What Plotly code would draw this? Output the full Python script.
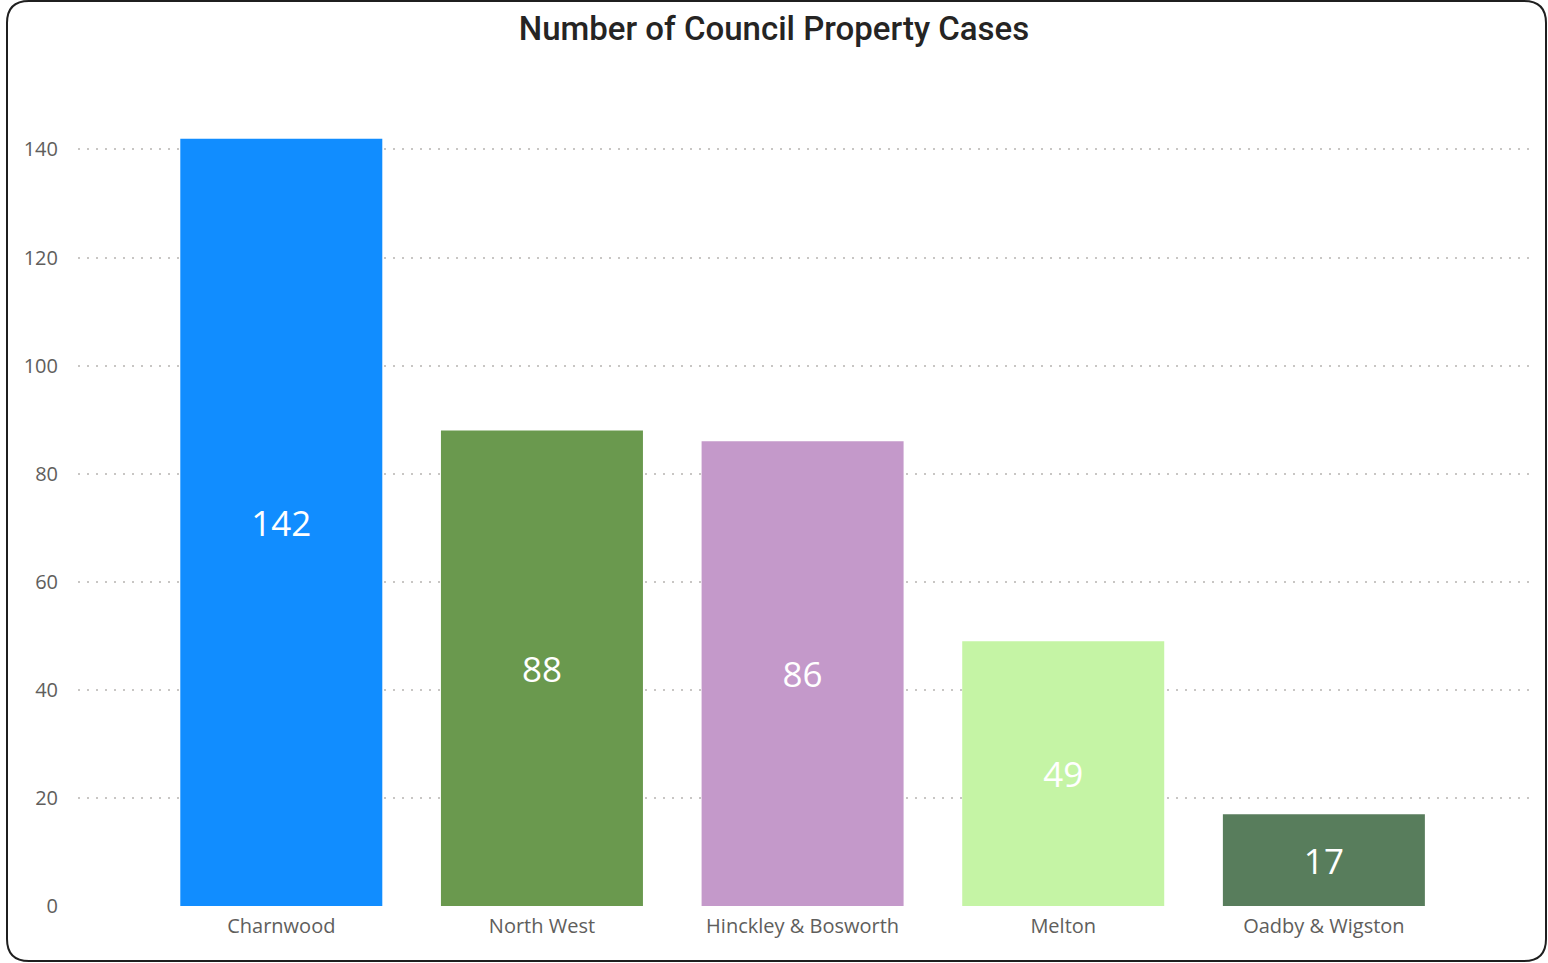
import plotly.graph_objects as go

categories = ["Charnwood", "North West", "Hinckley & Bosworth", "Melton", "Oadby & Wigston"]
cases = [142, 88, 86, 49, 17]
bar_colors = ["#118DFF", "#6A994E", "#C499CA", "#C5F4A5", "#587D5C"]
y_ticks = [0, 20, 40, 60, 80, 100, 120, 140]

W, H = 1548, 963
ML, MR, MT, MB = 78, 13, 90, 57
PW, PH = W - ML - MR, H - MT - MB

fig = go.Figure(go.Bar(
    x=categories, y=cases,
    marker=dict(color=bar_colors, line=dict(width=0)),
    text=[str(v) for v in cases],
    textposition="inside", insidetextanchor="middle",
    textfont=dict(family="Open Sans, Segoe UI, sans-serif", size=35, color="white"),
    textangle=0,
    hoverinfo="x+y",
))

# rounded border in pixel space -> paper coords
def px(x):
    return (x - ML) / PW
def py(y):
    return (H - MB - y) / PH

x0, x1, y0, y1, r = 7, 1546, 1, 961, 22
path = (
    f"M {px(x0 + r)},{py(y0)} L {px(x1 - r)},{py(y0)} "
    f"Q {px(x1)},{py(y0)} {px(x1)},{py(y0 + r)} "
    f"L {px(x1)},{py(y1 - r)} Q {px(x1)},{py(y1)} {px(x1 - r)},{py(y1)} "
    f"L {px(x0 + r)},{py(y1)} Q {px(x0)},{py(y1)} {px(x0)},{py(y1 - r)} "
    f"L {px(x0)},{py(y0 + r)} Q {px(x0)},{py(y0)} {px(x0 + r)},{py(y0)} Z"
)

fig.update_layout(
    width=W, height=H,
    margin=dict(l=ML, r=MR, t=MT, b=MB),
    paper_bgcolor="white", plot_bgcolor="white",
    bargap=0.225,
    showlegend=False,
    title=dict(
        text="Number of Council Property Cases",
        x=0.5, xref="container", xanchor="center",
        y=1 - 28 / H, yref="container", yanchor="middle",
        font=dict(family="Roboto, sans-serif", size=33, color="#252423", weight=500),
    ),
    shapes=[dict(type="path", xref="paper", yref="paper", path=path,
                 line=dict(color="#1F1F1F", width=2), fillcolor="rgba(0,0,0,0)", layer="above")],
    xaxis=dict(
        range=[-0.78, 4.81], showgrid=False, zeroline=False, showline=False,
        ticks="", ticklabelstandoff=6,
        tickfont=dict(family="Open Sans, Segoe UI, sans-serif", size=20, color="#605E5C"),
    ),
    yaxis=dict(
        range=[0, 151], tickvals=y_ticks, showgrid=True, gridcolor="#C8C6C4",
        griddash="2px,7px", gridwidth=2, zeroline=False, showline=False, ticks="",
        ticklabelstandoff=19,
        tickfont=dict(family="Open Sans, Segoe UI, sans-serif", size=20, color="#605E5C"),
    ),
)

fig.write_html("out.html", config={"displayModeBar": False},
               post_script="document.body.style.margin='0';")
